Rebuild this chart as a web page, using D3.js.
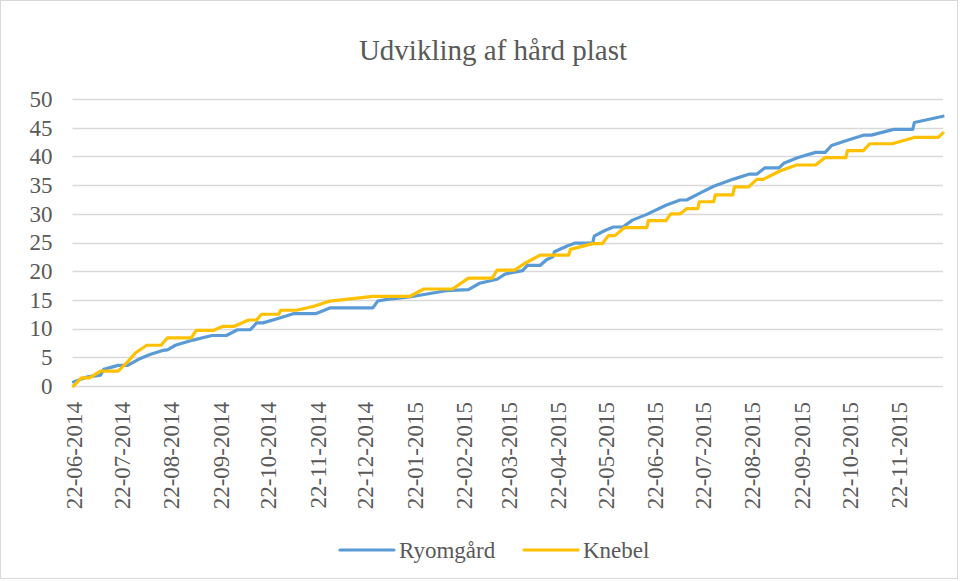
<!DOCTYPE html>
<html>
<head>
<meta charset="utf-8">
<script src="https://cdn.jsdelivr.net/npm/d3@7"></script>
<style>
  body { margin: 0; background: #fff; }
  svg { display: block; font-family: "Liberation Serif", "Times New Roman", serif; }
</style>
</head>
<body>
<div id="chart"></div>
<script>
// chart values
const titleText = "Udvikling af hård plast";
const seriesNames = ["Ryomgård", "Knebel"];
const seriesColors = ["#5b9bd5", "#ffc000"];
const yTicks = [0, 5, 10, 15, 20, 25, 30, 35, 40, 45, 50];

const ryomgardDates = [
  "2014-06-22", "2014-07-01", "2014-07-09", "2014-07-11", "2014-07-20", "2014-07-26", "2014-08-03",
  "2014-08-09", "2014-08-17", "2014-08-20", "2014-08-25", "2014-09-05", "2014-09-17", "2014-09-26",
  "2014-10-03", "2014-10-11", "2014-10-15", "2014-10-19", "2014-10-30", "2014-11-07", "2014-11-21",
  "2014-11-30", "2014-12-27", "2014-12-30", "2015-01-05", "2015-01-19", "2015-02-11", "2015-02-25",
  "2015-03-04", "2015-03-15", "2015-03-20", "2015-03-31", "2015-04-03", "2015-04-11", "2015-04-15",
  "2015-04-19", "2015-04-20", "2015-04-28", "2015-05-03", "2015-05-14", "2015-05-15", "2015-05-21",
  "2015-05-27", "2015-06-02", "2015-06-08", "2015-06-17", "2015-06-29", "2015-07-08", "2015-07-12",
  "2015-07-21", "2015-07-29", "2015-08-10", "2015-08-20", "2015-08-25", "2015-08-30", "2015-09-08",
  "2015-09-11", "2015-09-20", "2015-10-01", "2015-10-07", "2015-10-11", "2015-10-21", "2015-10-31",
  "2015-11-05", "2015-11-19", "2015-12-01", "2015-12-02", "2015-12-20"
];
const ryomgardValues = [
  0.7, 1.6, 1.9, 2.9, 3.6, 3.6, 4.8,
  5.5, 6.2, 6.3, 7.1, 8.0, 8.8, 8.8,
  9.8, 9.8, 11.0, 11.0, 11.9, 12.6, 12.6,
  13.6, 13.6, 14.8, 15.1, 15.5, 16.6, 16.8,
  17.9, 18.6, 19.5, 20.1, 21.0, 21.0, 22.0,
  22.5, 23.4, 24.4, 24.9, 24.9, 26.1, 27.0,
  27.7, 27.7, 28.9, 29.9, 31.5, 32.4, 32.4,
  33.7, 34.8, 36.0, 36.9, 36.9, 38.0, 38.0,
  38.8, 39.8, 40.7, 40.7, 41.9, 42.8, 43.7,
  43.7, 44.7, 44.7, 45.9, 47.0
];

const knebelDates = [
  "2014-06-22", "2014-06-27", "2014-07-02", "2014-07-09", "2014-07-20", "2014-07-26", "2014-07-31",
  "2014-08-07", "2014-08-16", "2014-08-20", "2014-09-04", "2014-09-07", "2014-09-18", "2014-09-24",
  "2014-10-01", "2014-10-10", "2014-10-15", "2014-10-18", "2014-10-29", "2014-10-30", "2014-11-09",
  "2014-11-20", "2014-11-30", "2014-12-27", "2015-01-19", "2015-01-28", "2015-02-15", "2015-02-25",
  "2015-03-12", "2015-03-15", "2015-03-26", "2015-04-01", "2015-04-11", "2015-04-29", "2015-04-30",
  "2015-05-14", "2015-05-20", "2015-05-24", "2015-05-28", "2015-06-03", "2015-06-17", "2015-06-18",
  "2015-06-29", "2015-07-02", "2015-07-08", "2015-07-12", "2015-07-19", "2015-07-20", "2015-07-29",
  "2015-07-30", "2015-08-10", "2015-08-11", "2015-08-20", "2015-08-25", "2015-08-29", "2015-09-09",
  "2015-09-19", "2015-10-01", "2015-10-07", "2015-10-20", "2015-10-21", "2015-10-31", "2015-11-04",
  "2015-11-18", "2015-12-02", "2015-12-17", "2015-12-20"
];
const knebelValues = [
  0, 1.4, 1.4, 2.6, 2.6, 4.2, 5.8,
  7.1, 7.1, 8.4, 8.4, 9.7, 9.7, 10.4,
  10.4, 11.5, 11.5, 12.5, 12.5, 13.2, 13.2,
  13.9, 14.8, 15.6, 15.6, 16.9, 16.9, 18.8,
  18.8, 20.2, 20.2, 21.3, 22.8, 22.8, 23.8,
  24.8, 24.8, 26.2, 26.2, 27.6, 27.6, 28.8,
  28.8, 30.0, 30.0, 30.9, 30.9, 32.1, 32.1,
  33.3, 33.3, 34.7, 34.7, 36.0, 36.0, 37.5,
  38.5, 38.5, 39.8, 39.8, 41.0, 41.0, 42.2,
  42.2, 43.3, 43.3, 44.1
];

const axisStart = "2014-06-22";
const axisEnd = "2015-12-20";
const monthCount = 18;

const W = 960, H = 581;
const margin = { top: 99, right: 17, bottom: 195, left: 73.5 };
const width = W - margin.left - margin.right;
const height = H - margin.top - margin.bottom;

const parse = d3.timeParse("%Y-%m-%d");
const fmt = d3.timeFormat("%d-%m-%Y");

const series = [
  { name: seriesNames[0], color: seriesColors[0],
    values: ryomgardDates.map((d, i) => ({ date: parse(d), value: ryomgardValues[i] })) },
  { name: seriesNames[1], color: seriesColors[1],
    values: knebelDates.map((d, i) => ({ date: parse(d), value: knebelValues[i] })) }
];

const x = d3.scaleTime().domain([parse(axisStart), parse(axisEnd)]).range([0, width]);
const y = d3.scaleLinear().domain([0, 50]).range([height, 0]);
const xTicks = d3.range(monthCount).map(i => d3.timeMonth.offset(parse(axisStart), i));

const svg = d3.select("#chart").append("svg")
  .attr("width", W)
  .attr("height", H);

// outer frame
svg.append("rect")
  .attr("x", 0.5).attr("y", 0.5)
  .attr("width", W - 3).attr("height", H - 3)
  .attr("fill", "#fff")
  .attr("stroke", "#d9d9d9");

svg.append("text")
  .attr("x", 493)
  .attr("y", 60)
  .attr("text-anchor", "middle")
  .style("font-size", "29px")
  .style("fill", "#595959")
  .text(titleText);

const g = svg.append("g")
  .attr("transform", "translate(" + margin.left + "," + margin.top + ")");

// gridlines
g.append("g")
  .selectAll("line")
  .data(yTicks)
  .enter().append("line")
  .attr("x1", -1).attr("x2", width)
  .attr("y1", d => Math.round(y(d)) + 0.5)
  .attr("y2", d => Math.round(y(d)) + 0.5)
  .attr("stroke", "#d9d9d9")
  .attr("stroke-width", 1.3);

// y axis labels
const yAxis = d3.axisLeft(y).tickValues(yTicks).tickSize(0).tickPadding(21);
g.append("g")
  .call(yAxis)
  .call(a => a.select(".domain").remove())
  .selectAll("text")
  .style("font-family", "Liberation Serif, serif")
  .style("font-size", "23px")
  .style("fill", "#595959");

// x axis labels, rotated
const xAxis = d3.axisBottom(x).tickValues(xTicks).tickFormat(fmt).tickSize(0);
g.append("g")
  .attr("transform", "translate(0," + height + ")")
  .call(xAxis)
  .call(a => a.select(".domain").remove())
  .selectAll("text")
  .style("font-family", "Liberation Serif, serif")
  .style("font-size", "23px")
  .style("fill", "#595959")
  .attr("text-anchor", "end")
  .attr("dy", "0.35em")
  .attr("transform", "translate(0,16) rotate(-90)")
  .attr("x", 0)
  .attr("y", 0);

const line = d3.line()
  .x(d => x(d.date))
  .y(d => y(d.value));

g.selectAll(".series")
  .data(series)
  .enter().append("path")
  .attr("class", "series")
  .attr("fill", "none")
  .attr("stroke", d => d.color)
  .attr("stroke-width", 3.2)
  .attr("stroke-linejoin", "round")
  .attr("stroke-linecap", "round")
  .attr("d", d => line(d.values));

// legend
const legendX = [340, 524];
const legend = svg.append("g").selectAll("g")
  .data(series)
  .enter().append("g")
  .attr("transform", (d, i) => "translate(" + legendX[i] + ",550)");
legend.append("line")
  .attr("x1", 0).attr("x2", 54)
  .attr("stroke", d => d.color)
  .attr("stroke-width", 3.2)
  .attr("stroke-linecap", "round");
legend.append("text")
  .attr("x", 59)
  .attr("dy", "0.35em")
  .style("font-size", "23px")
  .style("fill", "#595959")
  .text(d => d.name);
</script>
</body>
</html>
